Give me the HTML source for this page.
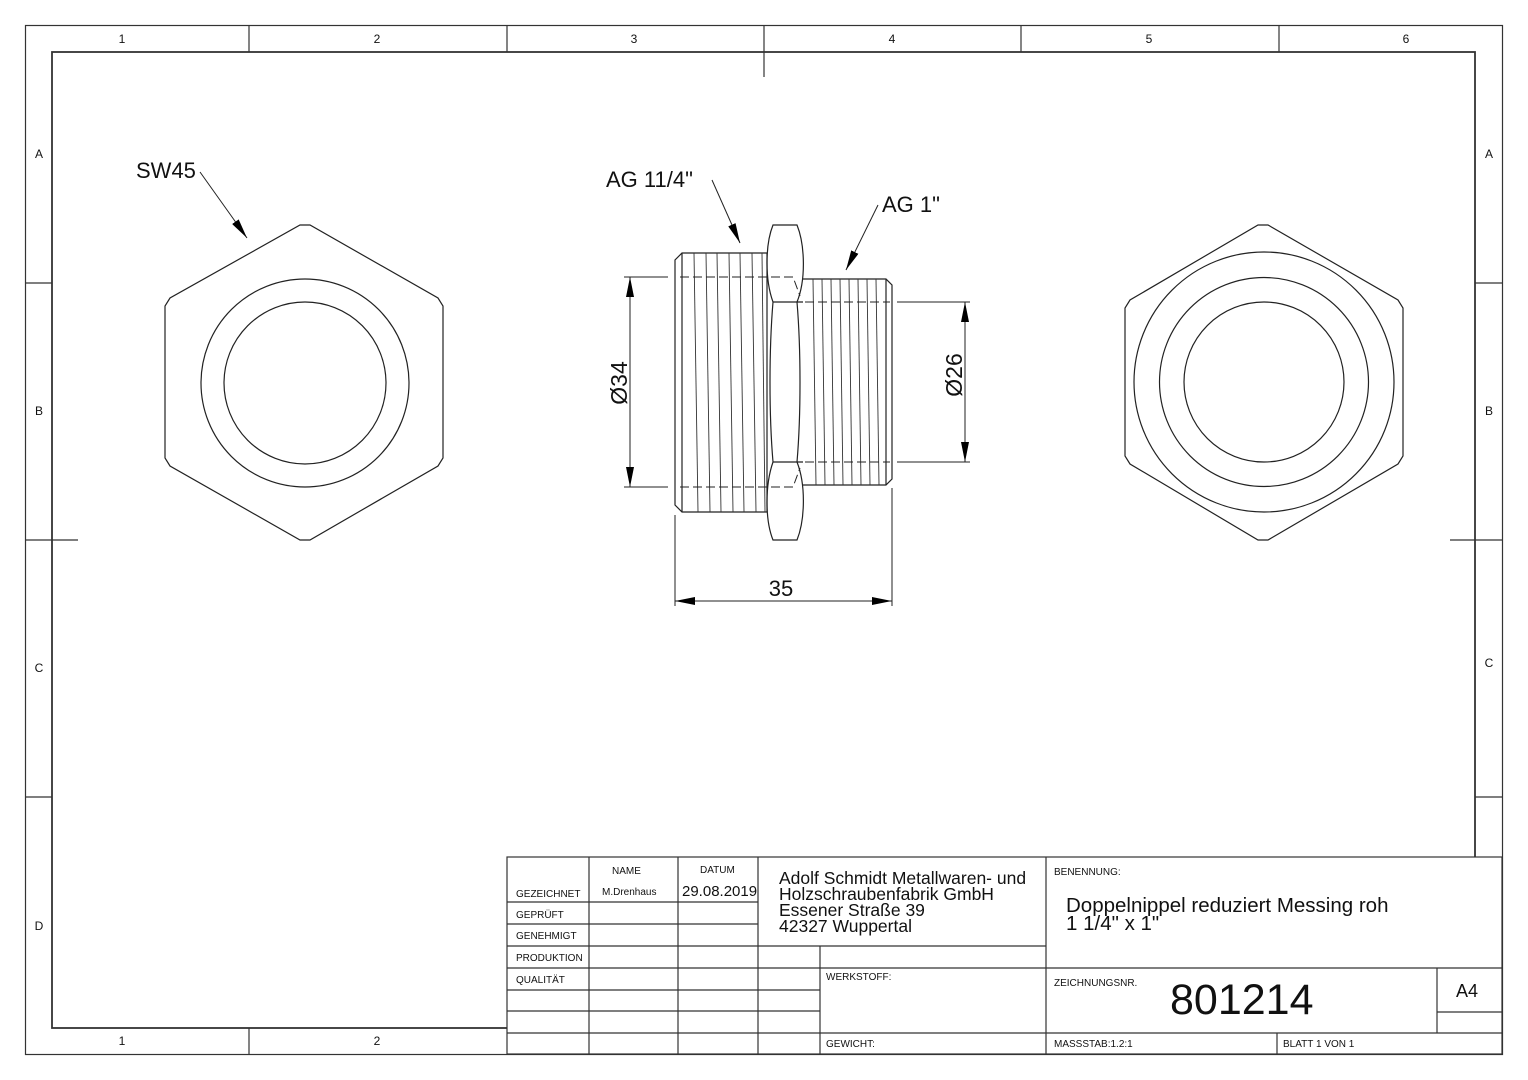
<!DOCTYPE html>
<html><head><meta charset="utf-8"><style>html,body{margin:0;padding:0;background:#fff}svg{display:block}text{font-family:"Liberation Sans",sans-serif;fill:#111}</style></head>
<body>
<svg width="1528" height="1080" viewBox="0 0 1528 1080" xmlns="http://www.w3.org/2000/svg">
<defs>
<marker id="ar" viewBox="0 0 20 8" refX="20" refY="4" markerWidth="20" markerHeight="8" markerUnits="userSpaceOnUse" orient="auto-start-reverse"><path d="M0,0 L20,4 L0,8 Z" fill="#000"/></marker>
</defs>
<g fill="none" stroke="#333" stroke-width="1.2">
<rect x="25.5" y="25.5" width="1477" height="1029"/>
<rect x="52" y="52" width="1423" height="976" stroke-width="1.8"/>
<line x1="249" y1="25" x2="249" y2="52"/><line x1="507" y1="25" x2="507" y2="52"/><line x1="764" y1="25" x2="764" y2="77"/><line x1="1021" y1="25" x2="1021" y2="52"/><line x1="1279" y1="25" x2="1279" y2="52"/>
<line x1="249" y1="1028" x2="249" y2="1054"/>
<line x1="25" y1="283" x2="52" y2="283"/><line x1="25" y1="540" x2="78" y2="540"/><line x1="25" y1="797" x2="52" y2="797"/>
<line x1="1475" y1="283" x2="1502" y2="283"/><line x1="1450" y1="540" x2="1502" y2="540"/><line x1="1475" y1="797" x2="1502" y2="797"/>
</g>
<g font-size="12" text-anchor="middle">
<text x="122" y="43">1</text><text x="377" y="43">2</text><text x="634" y="43">3</text><text x="892" y="43">4</text><text x="1149" y="43">5</text><text x="1406" y="43">6</text>
<text x="122" y="1045">1</text><text x="377" y="1045">2</text>
<text x="39" y="158">A</text><text x="39" y="415">B</text><text x="39" y="672">C</text><text x="39" y="930">D</text>
<text x="1489" y="158">A</text><text x="1489" y="415">B</text><text x="1489" y="667">C</text>
</g>

<g fill="none" stroke="#222" stroke-width="1.2">
<path d="M300,225 L310,225 L438,298 L443,306 L443,458 L438,466 L310,540 L300,540 L170,466 L165,458 L165,306 L170,298 Z"/>
<circle cx="305" cy="383" r="104"/><circle cx="305" cy="383" r="81"/>
<path d="M1258,225 L1268,225 L1398,300 L1403,308 L1403,456 L1398,464 L1268,540 L1258,540 L1130,464 L1125,456 L1125,308 L1130,300 Z"/>
<circle cx="1264" cy="382" r="130"/><circle cx="1264" cy="382" r="104.5"/><circle cx="1264" cy="382" r="80"/>
</g>

<g fill="none" stroke="#222" stroke-width="1.2">
<path d="M682,253 L767,253 L767,512 L682,512 L675,505 L675,260 Z"/>
<line x1="682" y1="253" x2="682" y2="512"/>
<path d="M803,279 L886,279 L892,285 L892,479 L886,485 L803,485"/>
<line x1="886" y1="279" x2="886" y2="485"/>
<path d="M773,225 L797,225 C805,245 806,280 797,302 C801,350 801,415 797,462 C806,485 805,520 797,540 L773,540 C765,520 765,485 773,462 C769,415 769,350 773,302 C765,280 765,245 773,225 Z"/>
<line x1="773" y1="302" x2="803" y2="302"/><line x1="773" y1="462" x2="803" y2="462"/>
</g>
<g stroke="#333" stroke-width="0.9">
<line x1="694" y1="253" x2="698" y2="512"/><line x1="706" y1="253" x2="710" y2="512"/><line x1="717" y1="253" x2="721" y2="512"/><line x1="729" y1="253" x2="733" y2="512"/><line x1="740" y1="253" x2="744" y2="512"/><line x1="752" y1="253" x2="756" y2="512"/><line x1="762" y1="253" x2="765" y2="512"/>
<line x1="813" y1="279" x2="816" y2="485"/><line x1="822" y1="279" x2="825" y2="485"/><line x1="831" y1="279" x2="834" y2="485"/><line x1="840" y1="279" x2="843" y2="485"/><line x1="849" y1="279" x2="852" y2="485"/><line x1="858" y1="279" x2="861" y2="485"/><line x1="867" y1="279" x2="870" y2="485"/><line x1="876" y1="279" x2="879" y2="485"/>
</g>
<g stroke="#222" stroke-width="1" fill="none" stroke-dasharray="9,4">
<path d="M680,277 L793,277 L800,296"/><path d="M680,487 L793,487 L800,468"/>
<line x1="805" y1="302" x2="890" y2="302"/><line x1="805" y1="462" x2="890" y2="462"/>
</g>
<g stroke="#222" stroke-width="1" fill="none">
<line x1="624" y1="277" x2="668" y2="277"/><line x1="624" y1="487" x2="668" y2="487"/>
<line x1="630" y1="277" x2="630" y2="487" marker-start="url(#ar)" marker-end="url(#ar)"/>
<line x1="897" y1="302" x2="970" y2="302"/><line x1="897" y1="462" x2="970" y2="462"/>
<line x1="965" y1="302" x2="965" y2="462" marker-start="url(#ar)" marker-end="url(#ar)"/>
<line x1="675" y1="515" x2="675" y2="606"/><line x1="892" y1="488" x2="892" y2="606"/>
<line x1="675" y1="601" x2="892" y2="601" marker-start="url(#ar)" marker-end="url(#ar)"/>
<line x1="200" y1="172" x2="247" y2="238" marker-end="url(#ar)"/>
<line x1="712" y1="180" x2="740" y2="243" marker-end="url(#ar)"/>
<line x1="878" y1="205" x2="846" y2="270" marker-end="url(#ar)"/>
</g>
<g font-size="22">
<text x="136" y="178">SW45</text>
<text x="606" y="187">AG 11/4"</text>
<text x="882" y="212">AG 1"</text>
<text x="781" y="596" text-anchor="middle">35</text>
<text transform="translate(627,383) rotate(-90)" text-anchor="middle" font-size="23">Ø34</text>
<text transform="translate(962,375) rotate(-90)" text-anchor="middle" font-size="23">Ø26</text>
</g>

<g fill="none" stroke="#333" stroke-width="1.2">
<rect x="507" y="857" width="995" height="197" fill="#fff"/>
<line x1="589" y1="857" x2="589" y2="1054"/><line x1="678" y1="857" x2="678" y2="1054"/><line x1="758" y1="857" x2="758" y2="1054"/>
<line x1="820" y1="946" x2="820" y2="1054"/><line x1="1046" y1="857" x2="1046" y2="1054"/>
<line x1="507" y1="902" x2="758" y2="902"/><line x1="507" y1="924" x2="758" y2="924"/>
<line x1="507" y1="946" x2="1046" y2="946"/><line x1="507" y1="968" x2="1502" y2="968"/>
<line x1="507" y1="990" x2="820" y2="990"/><line x1="507" y1="1011" x2="820" y2="1011"/>
<line x1="507" y1="1033" x2="1502" y2="1033"/>
<line x1="1437" y1="968" x2="1437" y2="1033"/><line x1="1437" y1="1012" x2="1502" y2="1012"/>
<line x1="1277" y1="1033" x2="1277" y2="1054"/>
</g>
<g font-size="10">
<text x="612" y="874">NAME</text><text x="700" y="873">DATUM</text>
<text x="516" y="897">GEZEICHNET</text><text x="602" y="895">M.Drenhaus</text>
<text x="516" y="918">GEPRÜFT</text><text x="516" y="939">GENEHMIGT</text>
<text x="516" y="961">PRODUKTION</text><text x="516" y="983">QUALITÄT</text>
<text x="826" y="980">WERKSTOFF:</text><text x="826" y="1047">GEWICHT:</text>
<text x="1054" y="875">BENENNUNG:</text><text x="1054" y="986">ZEICHNUNGSNR.</text>
<text x="1054" y="1047">MASSSTAB:1.2:1</text><text x="1283" y="1047">BLATT 1 VON 1</text>
</g>
<text x="682" y="896" font-size="15">29.08.2019</text>
<g font-size="17.5">
<text x="779" y="884">Adolf Schmidt Metallwaren- und</text>
<text x="779" y="900">Holzschraubenfabrik GmbH</text>
<text x="779" y="916">Essener Straße 39</text>
<text x="779" y="932">42327 Wuppertal</text>
</g>
<text x="1066" y="912" font-size="20.5">Doppelnippel reduziert Messing roh</text>
<text x="1066" y="930" font-size="20.5">1 1/4" x 1"</text>
<text x="1170" y="1014" font-size="43">801214</text>
<text x="1456" y="997" font-size="18">A4</text>
</svg>
</body></html>
